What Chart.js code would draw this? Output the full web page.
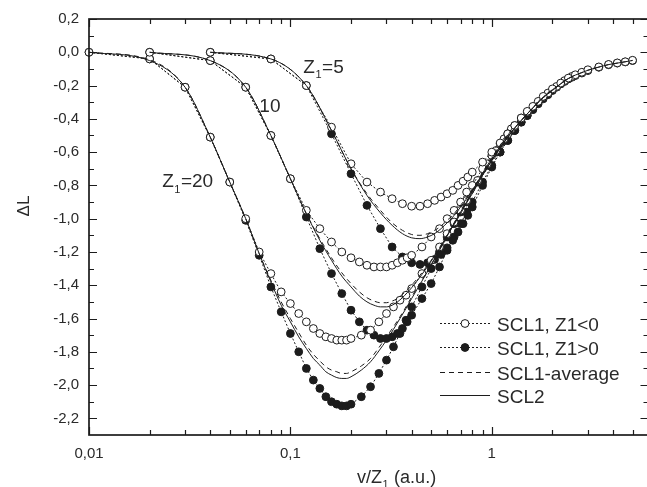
<!DOCTYPE html>
<html>
<head>
<meta charset="utf-8">
<script src="https://cdn.jsdelivr.net/npm/chart.js@4.4.1/dist/chart.umd.min.js"></script>
<style>
  html, body { margin: 0; padding: 0; background: #fff; overflow: hidden; }
  canvas { display: block; }
</style>
</head>
<body>
<canvas id="chartDL" width="650" height="487"></canvas>
<script>
/* Delta L vs v/Z1, SCL1 (Z1<0, Z1>0, average) and SCL2, Z1 = 5, 10, 20 */

var FONT = '"Liberation Sans", Arial, Helvetica, sans-serif';
var INK = '#1c1c1c';

/* v/Z1 grids */
var x5 = [0.04, 0.08, 0.12, 0.16, 0.20, 0.24, 0.28, 0.32, 0.36, 0.40, 0.44, 0.48, 0.52, 0.56, 0.60, 0.64, 0.68, 0.72, 0.76, 0.80,
  0.9, 1.0, 1.1, 1.2, 1.3, 1.4, 1.5, 1.6, 1.8, 2.0, 2.2, 2.4, 2.6, 2.8, 3.0, 3.4, 3.8, 4.2, 4.6, 5.0];
var x10 = [0.02, 0.04, 0.06, 0.08, 0.10, 0.12, 0.14, 0.16, 0.18, 0.20, 0.22, 0.24, 0.26, 0.28, 0.30, 0.32, 0.34, 0.36, 0.38, 0.40,
  0.45, 0.50, 0.55, 0.60, 0.65, 0.70, 0.75, 0.80, 0.9, 1.0, 1.1, 1.2, 1.3, 1.4, 1.5, 1.7, 1.9, 2.1, 2.3, 2.5];
var x20 = [0.01, 0.02, 0.03, 0.04, 0.05, 0.06, 0.07, 0.08, 0.09, 0.10, 0.11, 0.12, 0.13, 0.14, 0.15, 0.16, 0.17, 0.18, 0.19, 0.20,
  0.225, 0.25, 0.275, 0.30, 0.325, 0.35, 0.375, 0.40, 0.45, 0.50, 0.55, 0.60, 0.65, 0.70, 0.75, 0.85, 0.95, 1.05, 1.15, 1.25];

/* Z1 = 5 */
var neg5 = [0, -0.04, -0.20, -0.45, -0.67, -0.78, -0.84, -0.88, -0.91, -0.925, -0.925, -0.91, -0.89, -0.87, -0.85, -0.83, -0.80, -0.775, -0.75, -0.72,
  -0.66, -0.60, -0.545, -0.49, -0.44, -0.395, -0.355, -0.325, -0.265, -0.22, -0.185, -0.155, -0.135, -0.12, -0.105, -0.088, -0.073, -0.064, -0.057, -0.048];
var pos5 = [0, -0.04, -0.20, -0.49, -0.73, -0.92, -1.06, -1.17, -1.23, -1.265, -1.275, -1.265, -1.245, -1.215, -1.175, -1.13, -1.08, -1.03, -0.98, -0.93,
  -0.80, -0.69, -0.60, -0.53, -0.47, -0.42, -0.38, -0.345, -0.28, -0.23, -0.19, -0.16, -0.14, -0.125, -0.11, -0.09, -0.075, -0.065, -0.058, -0.05];
var avg5 = [0, -0.04, -0.20, -0.47, -0.70, -0.85, -0.95, -1.025, -1.07, -1.095, -1.10, -1.09, -1.07, -1.045, -1.01, -0.98, -0.94, -0.90, -0.865, -0.825,
  -0.73, -0.645, -0.57, -0.51, -0.455, -0.41, -0.37, -0.335, -0.27, -0.225, -0.19, -0.158, -0.137, -0.122, -0.108, -0.089, -0.074, -0.065, -0.057, -0.049];
var scl2_5 = [0, -0.04, -0.20, -0.47, -0.70, -0.86, -0.965, -1.04, -1.09, -1.115, -1.12, -1.11, -1.09, -1.06, -1.025, -0.99, -0.95, -0.91, -0.87, -0.83,
  -0.735, -0.65, -0.575, -0.51, -0.455, -0.41, -0.37, -0.335, -0.27, -0.225, -0.19, -0.158, -0.137, -0.122, -0.108, -0.089, -0.074, -0.065, -0.057, -0.049];

/* Z1 = 10 */
var neg10 = [0, -0.05, -0.21, -0.50, -0.76, -0.95, -1.06, -1.14, -1.20, -1.235, -1.26, -1.28, -1.29, -1.29, -1.29, -1.28, -1.265, -1.25, -1.235, -1.22,
  -1.17, -1.11, -1.06, -1.00, -0.95, -0.90, -0.84, -0.80, -0.70, -0.62, -0.55, -0.49, -0.44, -0.395, -0.36, -0.295, -0.245, -0.205, -0.17, -0.145];
var pos10 = [0, -0.05, -0.21, -0.50, -0.76, -0.99, -1.18, -1.33, -1.45, -1.55, -1.62, -1.67, -1.70, -1.72, -1.72, -1.71, -1.69, -1.66, -1.62, -1.58,
  -1.48, -1.39, -1.29, -1.19, -1.11, -1.03, -0.96, -0.90, -0.78, -0.68, -0.60, -0.53, -0.47, -0.42, -0.38, -0.31, -0.255, -0.21, -0.175, -0.15];
var avg10 = [0, -0.05, -0.21, -0.50, -0.76, -0.97, -1.12, -1.235, -1.325, -1.39, -1.44, -1.475, -1.495, -1.505, -1.505, -1.495, -1.48, -1.455, -1.43, -1.40,
  -1.325, -1.25, -1.175, -1.095, -1.03, -0.965, -0.90, -0.85, -0.74, -0.65, -0.575, -0.51, -0.455, -0.41, -0.37, -0.30, -0.25, -0.21, -0.17, -0.147];
var scl2_10 = [0, -0.05, -0.21, -0.50, -0.76, -0.97, -1.13, -1.25, -1.345, -1.41, -1.465, -1.50, -1.52, -1.53, -1.53, -1.52, -1.50, -1.475, -1.445, -1.415,
  -1.335, -1.255, -1.18, -1.10, -1.035, -0.97, -0.905, -0.85, -0.74, -0.65, -0.575, -0.51, -0.455, -0.41, -0.37, -0.30, -0.25, -0.21, -0.17, -0.147];

/* Z1 = 20 */
var neg20 = [0, -0.04, -0.21, -0.51, -0.78, -1.00, -1.20, -1.33, -1.44, -1.51, -1.57, -1.62, -1.66, -1.69, -1.71, -1.72, -1.73, -1.73, -1.73, -1.72,
  -1.70, -1.67, -1.62, -1.57, -1.53, -1.49, -1.46, -1.42, -1.33, -1.25, -1.17, -1.09, -1.02, -0.95, -0.89, -0.77, -0.67, -0.59, -0.52, -0.46];
var pos20 = [0, -0.04, -0.21, -0.51, -0.78, -1.01, -1.22, -1.41, -1.56, -1.69, -1.80, -1.90, -1.97, -2.02, -2.07, -2.10, -2.115, -2.125, -2.125, -2.115,
  -2.07, -2.01, -1.93, -1.85, -1.77, -1.69, -1.61, -1.53, -1.41, -1.30, -1.20, -1.11, -1.03, -0.96, -0.90, -0.78, -0.68, -0.60, -0.53, -0.47];
var avg20 = [0, -0.045, -0.21, -0.51, -0.78, -1.00, -1.21, -1.37, -1.50, -1.60, -1.685, -1.76, -1.815, -1.855, -1.89, -1.91, -1.92, -1.93, -1.93, -1.92,
  -1.885, -1.84, -1.775, -1.71, -1.65, -1.59, -1.53, -1.47, -1.37, -1.275, -1.185, -1.10, -1.025, -0.955, -0.895, -0.775, -0.675, -0.595, -0.525, -0.465];
var scl2_20 = [0, -0.05, -0.21, -0.51, -0.78, -1.00, -1.21, -1.38, -1.52, -1.62, -1.71, -1.78, -1.84, -1.88, -1.92, -1.94, -1.955, -1.96, -1.96, -1.95,
  -1.91, -1.86, -1.795, -1.73, -1.665, -1.60, -1.54, -1.48, -1.375, -1.28, -1.19, -1.105, -1.03, -0.96, -0.90, -0.78, -0.68, -0.60, -0.53, -0.47];

/* axis ticks */
var xMajor = [0.01, 0.1, 1];
var xMinor = [0.02, 0.03, 0.04, 0.05, 0.06, 0.07, 0.08, 0.09, 0.2, 0.3, 0.4, 0.5, 0.6, 0.7, 0.8, 0.9, 2, 3, 4, 5, 6];
var yMajor = [0.2, 0.0, -0.2, -0.4, -0.6, -0.8, -1.0, -1.2, -1.4, -1.6, -1.8, -2.0, -2.2];
var yMinor = [0.1, -0.1, -0.3, -0.5, -0.7, -0.9, -1.1, -1.3, -1.5, -1.7, -1.9, -2.1];

var legendLabels = ['SCL1, Z1<0', 'SCL1, Z1>0', 'SCL1-average', 'SCL2'];

function pts(xs, ys) {
  return xs.map(function (x, i) { return { x: x, y: ys[i] }; });
}

var DOT = [2, 2], DASH = [5, 4];

function groupSets(xs, neg, pos, avg, scl2) {
  var common = { showLine: true, borderColor: INK, borderWidth: 1, clip: false };
  return [
    Object.assign({ data: pts(xs, pos), borderDash: DOT, pointRadius: 3.9, pointBorderWidth: 1,
      pointBackgroundColor: INK, pointBorderColor: INK, order: 4 }, common),
    Object.assign({ data: pts(xs, neg), borderDash: DOT, pointRadius: 3.9, pointBorderWidth: 1,
      pointBackgroundColor: '#fff', pointBorderColor: INK, order: 3 }, common),
    Object.assign({ data: pts(xs, avg), borderDash: DASH, pointRadius: 0, cubicInterpolationMode: 'monotone', order: 2 }, common),
    Object.assign({ data: pts(xs, scl2), pointRadius: 0, cubicInterpolationMode: 'monotone', order: 1 }, common)
  ];
}

function fmt(v) { return String(v).replace('.', ','); }

/* Frame with inward ticks on all four sides */
var frame = {
  id: 'frame',
  afterDatasetsDraw: function (chart) {
    var ctx = chart.ctx, a = chart.chartArea, sx = chart.scales.x, sy = chart.scales.y;
    ctx.save();
    ctx.strokeStyle = INK;
    ctx.lineWidth = 1.2;
    ctx.beginPath();
    function xt(v, len) {
      var p = Math.round(sx.getPixelForValue(v)) + 0.5;
      ctx.moveTo(p, a.bottom); ctx.lineTo(p, a.bottom - len);
      ctx.moveTo(p, a.top); ctx.lineTo(p, a.top + len);
    }
    function yt(v, len) {
      var p = Math.round(sy.getPixelForValue(v)) + 0.5;
      ctx.moveTo(a.left, p); ctx.lineTo(a.left + len, p);
      ctx.moveTo(a.right, p); ctx.lineTo(a.right - len, p);
    }
    xMajor.forEach(function (v) { xt(v, 8); });
    xMinor.forEach(function (v) { xt(v, 5); });
    yMajor.forEach(function (v) { yt(v, 8); });
    yMinor.forEach(function (v) { yt(v, 5); });
    ctx.stroke();
    ctx.lineWidth = 1.7;
    ctx.strokeRect(a.left, a.top, a.right - a.left, a.bottom - a.top);
    ctx.restore();
  }
};

/* Z1 labels, axis titles and legend */
function subText(ctx, x, y, pre, sub, post, size) {
  ctx.font = size + 'px ' + FONT;
  ctx.fillText(pre, x, y);
  x += ctx.measureText(pre).width + 0.5;
  ctx.font = Math.round(size * 0.6) + 'px ' + FONT;
  ctx.fillText(sub, x, y + size * 0.3);
  x += ctx.measureText(sub).width + 0.5;
  ctx.font = size + 'px ' + FONT;
  ctx.fillText(post, x, y);
}

var notes = {
  id: 'notes',
  afterDraw: function (chart) {
    var ctx = chart.ctx, sx = chart.scales.x, sy = chart.scales.y;
    ctx.save();
    ctx.fillStyle = '#2a2a2a';
    ctx.textAlign = 'left';
    ctx.textBaseline = 'alphabetic';
    subText(ctx, sx.getPixelForValue(0.116), sy.getPixelForValue(-0.123), 'Z', '1', '=5', 19);
    ctx.font = '19px ' + FONT;
    ctx.fillText('10', sx.getPixelForValue(0.0701), sy.getPixelForValue(-0.36));
    subText(ctx, sx.getPixelForValue(0.0231), sy.getPixelForValue(-0.81), 'Z', '1', '=20', 19);

    /* axis titles */
    subText(ctx, 357, 483, 'v/Z', '1', ' (a.u.)', 18);
    ctx.save();
    ctx.translate(28.5, 206);
    ctx.rotate(-Math.PI / 2);
    ctx.textAlign = 'center';
    ctx.font = '17px ' + FONT;
    ctx.fillText('\u0394L', 0, 0);
    ctx.restore();

    /* legend */
    var rows = [323, 347, 372, 395];
    ctx.strokeStyle = INK;
    ctx.lineWidth = 1;
    rows.forEach(function (ry, i) {
      ctx.setLineDash(i < 2 ? DOT : (i === 2 ? DASH : []));
      ctx.beginPath();
      ctx.moveTo(440, ry + 0.5); ctx.lineTo(490, ry + 0.5);
      ctx.stroke();
      ctx.setLineDash([]);
      if (i < 2) {
        ctx.beginPath();
        ctx.arc(465, ry + 0.5, 3.9, 0, Math.PI * 2);
        ctx.fillStyle = i === 0 ? '#fff' : INK;
        ctx.fill();
        ctx.stroke();
      }
      ctx.fillStyle = '#2a2a2a';
      ctx.font = '19px ' + FONT;
      ctx.fillText(legendLabels[i], 497, ry + 7.5);
    });
    ctx.restore();
  }
};

Chart.defaults.font.family = FONT;

new Chart(document.getElementById('chartDL'), {
  type: 'scatter',
  data: {
    datasets: [].concat(
      groupSets(x5, neg5, pos5, avg5, scl2_5),
      groupSets(x10, neg10, pos10, avg10, scl2_10),
      groupSets(x20, neg20, pos20, avg20, scl2_20)
    )
  },
  options: {
    responsive: false,
    animation: false,
    events: [],
    layout: { autoPadding: false, padding: { left: 0, top: 19, right: 1.5, bottom: 0 } },
    plugins: { legend: { display: false }, tooltip: { enabled: false } },
    scales: {
      x: {
        type: 'logarithmic', min: 0.01, max: 6,
        grid: { display: false, drawTicks: false }, border: { display: false },
        ticks: { color: '#2a2a2a', font: { size: 15 }, padding: 10, maxRotation: 0, callback: function (v) { return fmt(v); } },
        afterBuildTicks: function (s) { s.ticks = xMajor.map(function (v) { return { value: v }; }); },
        afterFit: function (s) { s.height = 52; }
      },
      y: {
        min: -2.3, max: 0.2,
        grid: { display: false, drawTicks: false }, border: { display: false },
        ticks: { color: '#2a2a2a', font: { size: 15 }, padding: 10, callback: function (v) { return fmt(v.toFixed(1)); } },
        afterBuildTicks: function (s) { s.ticks = yMajor.map(function (v) { return { value: v }; }); },
        afterFit: function (s) { s.width = 89; }
      }
    }
  },
  plugins: [frame, notes]
});
</script>
</body>
</html>
